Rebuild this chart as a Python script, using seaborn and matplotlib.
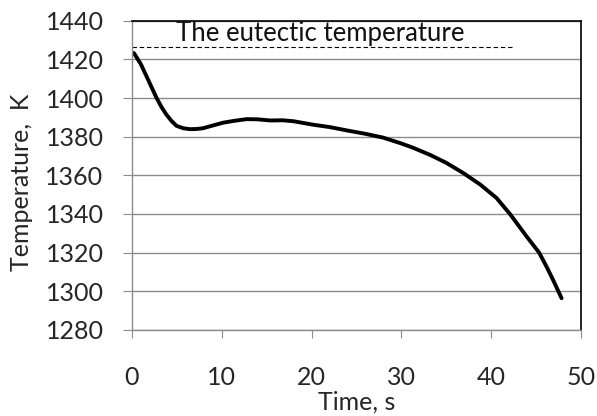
import matplotlib
matplotlib.use("Agg")
import matplotlib.pyplot as plt
import seaborn as sns
import pandas as pd

# cooling curve
time_s = [0.22, 1.0, 1.63, 2.2, 2.75, 3.3, 3.86, 4.4, 4.97, 5.7, 6.46, 7.2, 7.94, 9.0,
          10.2, 11.5, 12.8, 14.0, 15.4, 16.8, 18.0, 20.2, 22.0, 24.0, 26.0, 28.0, 30.0,
          31.3, 33.2, 35.0, 36.9, 38.8, 40.6, 42.1, 43.95, 45.35, 46.2, 46.9, 47.85]
temp_k = [1423.3, 1417.5, 1411.2, 1405.5, 1400.0, 1395.3, 1391.3, 1388.2, 1385.6, 1384.4,
          1383.9, 1384.0, 1384.4, 1385.8, 1387.3, 1388.3, 1389.1, 1389.0, 1388.4, 1388.5,
          1388.0, 1386.2, 1385.0, 1383.2, 1381.5, 1379.5, 1376.5, 1374.3, 1370.6, 1366.5,
          1361.2, 1355.2, 1348.3, 1340.0, 1328.4, 1320.0, 1312.5, 1305.9, 1296.4]

eutectic_t = [0, 42.3]
eutectic_k = [1426.5, 1426.5]
eutectic_label = "The eutectic temperature"

y_ticks = [1280, 1300, 1320, 1340, 1360, 1380, 1400, 1420, 1440]
x_ticks = [0, 10, 20, 30, 40, 50]

df = pd.DataFrame({"time": time_s, "temp": temp_k})
df_eut = pd.DataFrame({"time": eutectic_t, "temp": eutectic_k})

sns.set_style("white")
plt.rcParams["font.family"] = ["Lato", "DejaVu Sans"]

fig = plt.figure(figsize=(5.97, 4.16), dpi=100)
ax = fig.add_axes([0.221, 0.207, 0.752, 0.743])

ax.set_xlim(0, 50)
ax.set_ylim(1280, 1440)
ax.set_yticks(y_ticks)
ax.set_xticks(x_ticks)
ax.yaxis.grid(True, color="#8c8c8c", linewidth=1.0)
ax.set_axisbelow(True)

sns.lineplot(data=df, x="time", y="temp", ax=ax, color="black", linewidth=2.8)
sns.lineplot(data=df_eut, x="time", y="temp", ax=ax, color="black", linewidth=0.8,
             linestyle=(0, (4, 2.5)))
ax.text(4.9, 1433.6, eutectic_label, fontsize=18.5, va="center", ha="left", color="#111111")

for side in ["top", "right"]:
    ax.spines[side].set_color("black")
    ax.spines[side].set_linewidth(1.2)
for side in ["left", "bottom"]:
    ax.spines[side].set_color("#8c8c8c")
    ax.spines[side].set_linewidth(1.0)

ax.tick_params(axis="y", direction="out", length=6.5, color="#8c8c8c", left=True,
               labelsize=18, pad=14)
ax.tick_params(axis="x", direction="out", length=6, color="#8c8c8c", bottom=True,
               labelsize=18, pad=20)

ax.set_xlabel("Time, s", fontsize=18, labelpad=1)
ax.set_ylabel("Temperature,  K", fontsize=18)
ax.yaxis.set_label_coords(-0.2205, 0.476)

plt.savefig("out.png", dpi=100)
plt.close()
